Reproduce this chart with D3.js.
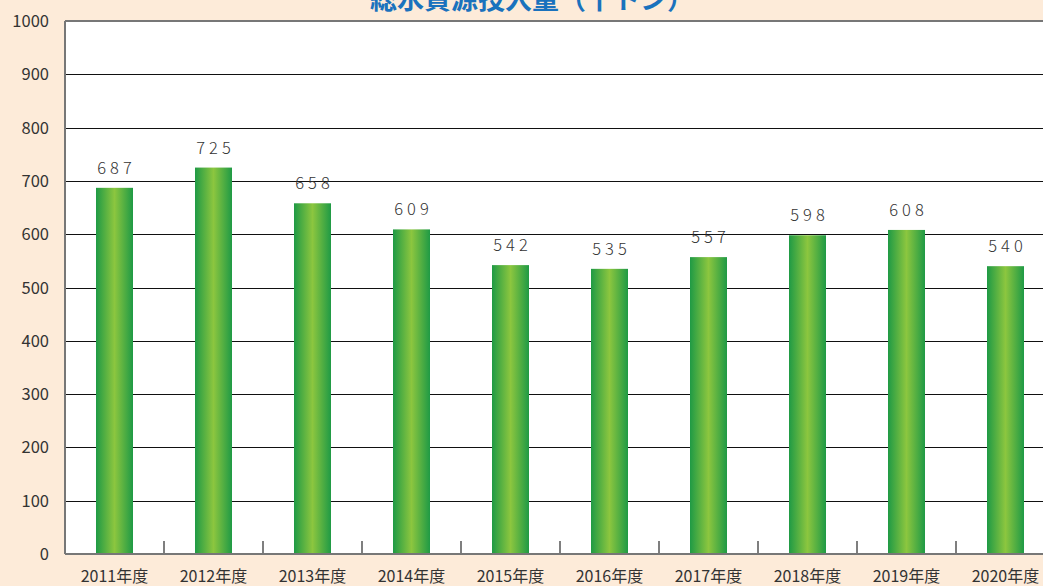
<!DOCTYPE html>
<html>
<head>
<meta charset="utf-8">
<script src="https://cdn.jsdelivr.net/npm/d3@7"></script>
<style>
  html, body { margin: 0; padding: 0; background: #fdebd9; overflow: hidden; }
  svg { display: block; font-family: "Noto Sans CJK JP", "Noto Sans", sans-serif; }
</style>
</head>
<body>
<div id="chart"></div>
<script>
var years = ["2011年度", "2012年度", "2013年度", "2014年度", "2015年度", "2016年度", "2017年度", "2018年度", "2019年度", "2020年度"];
var values = [687, 725, 658, 609, 542, 535, 557, 598, 608, 540];
var yTicks = [0, 100, 200, 300, 400, 500, 600, 700, 800, 900, 1000];
var title = "総水資源投入量（千トン）";

var W = 1043, H = 586;
var plotLeft = 65, plotTop = 21, plotBottom = 554, plotRight = 65 + 990;

var svg = d3.select("#chart").append("svg").attr("width", W).attr("height", H);

var defs = svg.append("defs");
var grad = defs.append("linearGradient").attr("id", "barGrad").attr("x1", "0%").attr("x2", "100%").attr("y1", "0%").attr("y2", "0%");
grad.append("stop").attr("offset", "0%").attr("stop-color", "#1f9a45");
grad.append("stop").attr("offset", "50%").attr("stop-color", "#8cc63f");
grad.append("stop").attr("offset", "100%").attr("stop-color", "#1f9a45");

var x = d3.scaleBand().domain(years).range([plotLeft, plotRight]).paddingInner(0).paddingOuter(0);
var y = d3.scaleLinear().domain([0, 1000]).range([plotBottom, plotTop]);

// plot background
svg.append("rect").attr("x", plotLeft).attr("y", plotTop).attr("width", plotRight - plotLeft).attr("height", plotBottom - plotTop).attr("fill", "#ffffff");

// grid lines
svg.selectAll(".grid").data(yTicks.filter(d => d > 0)).enter().append("line")
    .attr("x1", plotLeft).attr("x2", plotRight).attr("y1", d => Math.round(y(d)) + 0.5).attr("y2", d => Math.round(y(d)) + 0.5)
    .attr("stroke", "#111").attr("stroke-width", 1);

// bars
var barW = 37;
svg.selectAll(".bar").data(values).enter().append("rect")
    .attr("x", (d, i) => x(years[i]) + x.bandwidth() / 2 - barW / 2)
    .attr("y", d => y(d))
    .attr("width", barW)
    .attr("height", d => plotBottom - y(d))
    .attr("fill", "url(#barGrad)");

// value labels
svg.selectAll(".val").data(values).enter().append("text")
    .attr("x", (d, i) => x(years[i]) + x.bandwidth() / 2 + 2)
    .attr("y", d => y(d) - 14)
    .attr("text-anchor", "middle")
    .attr("font-size", 16.5)
    .attr("font-weight", 300)
    .attr("letter-spacing", 4)
    .attr("fill", "#333")
    .text(d => d);

// category separator ticks
svg.selectAll(".sep").data(years.slice(1)).enter().append("line")
    .attr("x1", d => x(d)).attr("x2", d => x(d))
    .attr("y1", plotBottom - 13).attr("y2", plotBottom)
    .attr("stroke", "#555").attr("stroke-width", 1.5);

// axes frame
svg.append("line").attr("x1", plotLeft).attr("x2", plotLeft).attr("y1", plotTop).attr("y2", plotBottom)
    .attr("stroke", "#777").attr("stroke-width", 2);
svg.append("line").attr("x1", plotLeft).attr("x2", plotRight).attr("y1", plotTop).attr("y2", plotTop)
    .attr("stroke", "#777").attr("stroke-width", 2);
svg.append("line").attr("x1", plotLeft).attr("x2", plotRight).attr("y1", plotBottom).attr("y2", plotBottom)
    .attr("stroke", "#777").attr("stroke-width", 2);

// y tick labels
svg.selectAll(".ylab").data(yTicks).enter().append("text")
    .attr("x", 49).attr("y", d => y(d) + 6)
    .attr("text-anchor", "end")
    .attr("font-size", 16.5)
    .attr("fill", "#333")
    .text(d => d);

// x labels
svg.selectAll(".xlab").data(years).enter().append("text")
    .attr("x", d => x(d) + x.bandwidth() / 2)
    .attr("y", 582)
    .attr("text-anchor", "middle")
    .attr("font-size", 16)
    .attr("fill", "#333")
    .text(d => d);

// title (clipped at top in the original)
svg.append("text").attr("x", 532).attr("y", 9)
    .attr("text-anchor", "middle")
    .attr("font-size", 27)
    .attr("font-weight", "bold")
    .attr("fill", "#1a72bd")
    .text(title);
</script>
</body>
</html>
